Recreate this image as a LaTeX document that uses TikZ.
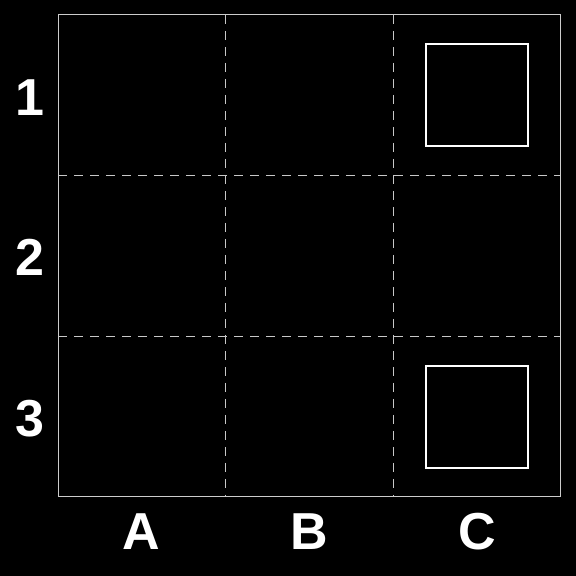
\documentclass[tikz,border=0pt]{standalone}
\usepackage{fontspec}
\setmainfont{Liberation Sans}
\begin{document}
\begin{tikzpicture}[x=1pt,y=-1pt,
  gridline/.style={draw=gridgray,line width=1pt,dash pattern=on 8.7pt off 7.3pt},
  frame/.style={draw=framegray,line width=1pt},
  cellbox/.style={draw=white,line width=2pt,minimum width=102pt,minimum height=102pt,inner sep=0pt},
  lbl/.style={text=white,font=\fontsize{52}{52}\selectfont\bfseries,anchor=base,inner sep=0pt}]
\definecolor{gridgray}{HTML}{C8C8C8}
\definecolor{framegray}{HTML}{CCCCCC}
\fill[black] (0,0) rectangle (576,576);
\useasboundingbox (0,0) rectangle (576,576);
\coordinate (tl) at (58.3,14.8);
\coordinate (br) at (560.7,496);
\coordinate (v1t) at (225.7,14.8);
\coordinate (v1b) at (225.7,496);
\coordinate (v2t) at (393.3,14.8);
\coordinate (v2b) at (393.3,496);
\coordinate (h1l) at (58.3,175.3);
\coordinate (h1r) at (560.7,175.3);
\coordinate (h2l) at (58.3,336);
\coordinate (h2r) at (560.7,336);
\draw[gridline] (v1t) -- (v1b);
\draw[gridline] (v2t) -- (v2b);
\draw[gridline] (h1l) -- (h1r);
\draw[gridline] (h2l) -- (h2r);
\draw[frame] (tl) rectangle (br);
\node[cellbox] (sq1) at (477.3,94.7) {};
\node[cellbox] (sq3) at (477.3,416.5) {};
\node[lbl] (r1) at (29.5,115) {1};
\node[lbl] (r2) at (29.5,275) {2};
\node[lbl] (r3) at (29.5,436) {3};
\node[lbl] (cA) at (141.5,549) {A};
\node[lbl] (cB) at (309.5,549) {B};
\node[lbl] (cC) at (477,549) {C};
\end{tikzpicture}
\end{document}
